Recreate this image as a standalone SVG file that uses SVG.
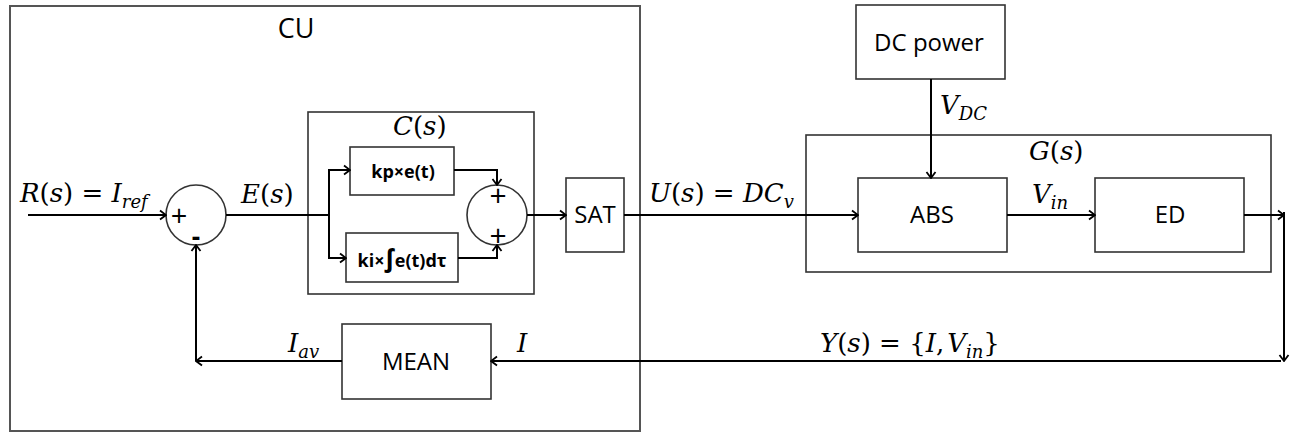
<svg xmlns="http://www.w3.org/2000/svg" width="1293" height="433" viewBox="0 0 1293 433">
<defs>
<marker id="arr" viewBox="0 0 12 12" markerUnits="userSpaceOnUse" markerWidth="12" markerHeight="12" refX="11" refY="6" orient="auto">
<path d="M5,1.5 L11,6 L5,10.5" fill="none" stroke="#000" stroke-width="1.8"/>
</marker>
</defs>
<style>
.box{fill:none;stroke:#333;stroke-width:1.6}
.frame{fill:none;stroke:#555;stroke-width:2}
.ln{fill:none;stroke:#000;stroke-width:2}
.ar{fill:none;stroke:#000;stroke-width:2;marker-end:url(#arr)}
.t{font-family:"Open Sans","Liberation Sans",sans-serif;font-size:24px;fill:#000;text-anchor:middle}
.b{font-family:"Open Sans","DejaVu Sans",sans-serif;font-size:18px;font-weight:bold;fill:#000;text-anchor:middle}
.m{font-family:"DejaVu Serif","Liberation Serif",serif;font-size:26px;font-style:italic;fill:#000}
.u{font-style:normal}
.s{font-size:18px}
</style>
<rect width="1293" height="433" fill="#fff"/>
<g id="CU">
<rect class="frame" x="10" y="6" width="630" height="425"/>
<text class="t" x="296" y="38" style="font-size:27px">CU</text>
</g>
<g id="Cs">
<rect class="box" x="308" y="112" width="226" height="182"/>
<text class="m" x="393" y="135">C<tspan class="u">(</tspan>s<tspan class="u">)</tspan></text>
</g>
<g id="sum1">
<circle class="box" cx="196" cy="215" r="30"/>
<text class="t" x="179" y="226" style="font-size:29px">+</text>
<text class="t" x="196" y="246" style="font-size:26px;font-weight:bold">-</text>
</g>
<g id="kp">
<rect class="box" x="350" y="147" width="104" height="48"/>
<text class="b" x="403" y="178">kp×e(t)</text>
</g>
<g id="ki">
<rect class="box" x="346" y="233" width="112" height="49"/>
<text class="b" x="402" y="267">ki×<tspan style="font-size:25px">∫</tspan>e(t)dτ</text>
</g>
<g id="sum2">
<circle class="box" cx="497" cy="215" r="30"/>
<text class="t" x="498" y="206" style="font-size:30px">+</text>
<text class="t" x="498" y="246" style="font-size:30px">+</text>
</g>
<g id="SAT">
<rect class="box" x="566" y="178" width="58" height="74"/>
<text class="t" x="595" y="223">SAT</text>
</g>
<g id="DCpower">
<rect class="box" x="856" y="5" width="149" height="74"/>
<text class="t" x="929" y="51">DC power</text>
</g>
<g id="Gs">
<rect class="box" x="806" y="135" width="465" height="137"/>
<text class="m" x="1029" y="160">G<tspan class="u">(</tspan>s<tspan class="u">)</tspan></text>
</g>
<g id="ABS">
<rect class="box" x="858" y="178" width="149" height="74"/>
<text class="t" x="932" y="223">ABS</text>
</g>
<g id="ED">
<rect class="box" x="1095" y="178" width="149" height="74"/>
<text class="t" x="1170" y="223">ED</text>
</g>
<g id="MEAN">
<rect class="box" x="342" y="324" width="149" height="75"/>
<text class="t" x="416" y="370">MEAN</text>
</g>
<g id="connectors">
<path class="ar" d="M28,215 H166"/>
<path class="ln" d="M226,215 H329"/>
<path class="ar" d="M329,215 V170 H350"/>
<path class="ar" d="M329,215 V258 H346"/>
<path class="ar" d="M454,170 H497 V185"/>
<path class="ar" d="M458,258 H497 V245"/>
<path class="ar" d="M527,215 H566"/>
<path class="ar" d="M624,215 H858"/>
<path class="ar" d="M931,79 V178"/>
<path class="ar" d="M1007,215 H1095"/>
<path class="ar" d="M1244,215 H1284"/>
<path class="ar" d="M1284,212 V361"/>
<path class="ar" d="M1281,361 H491"/>
<path class="ar" d="M342,361 H196"/>
<path class="ar" d="M196,361 V245"/>
</g>
<g id="labels">
<text class="m" x="20" y="202">R<tspan class="u">(</tspan>s<tspan class="u">) = </tspan>I<tspan class="s" dy="6">ref</tspan></text>
<text class="m" x="241" y="203">E<tspan class="u">(</tspan>s<tspan class="u">)</tspan></text>
<text class="m" x="649" y="202">U<tspan class="u">(</tspan>s<tspan class="u">) = </tspan>DC<tspan class="s" dy="6">v</tspan></text>
<text class="m" x="940" y="114">V<tspan class="s" dy="6">DC</tspan></text>
<text class="m" x="1032" y="203">V<tspan class="s" dy="6">in</tspan></text>
<text class="m" x="288" y="352">I<tspan class="s" dy="6">av</tspan></text>
<text class="m" x="517" y="352">I</text>
<text class="m" x="820" y="352">Y<tspan class="u">(</tspan>s<tspan class="u">) = {</tspan>I<tspan class="u">,</tspan><tspan dx="3">V</tspan><tspan class="s" dy="6">in</tspan><tspan class="u" dy="-6">}</tspan></text>
</g>
</svg>
